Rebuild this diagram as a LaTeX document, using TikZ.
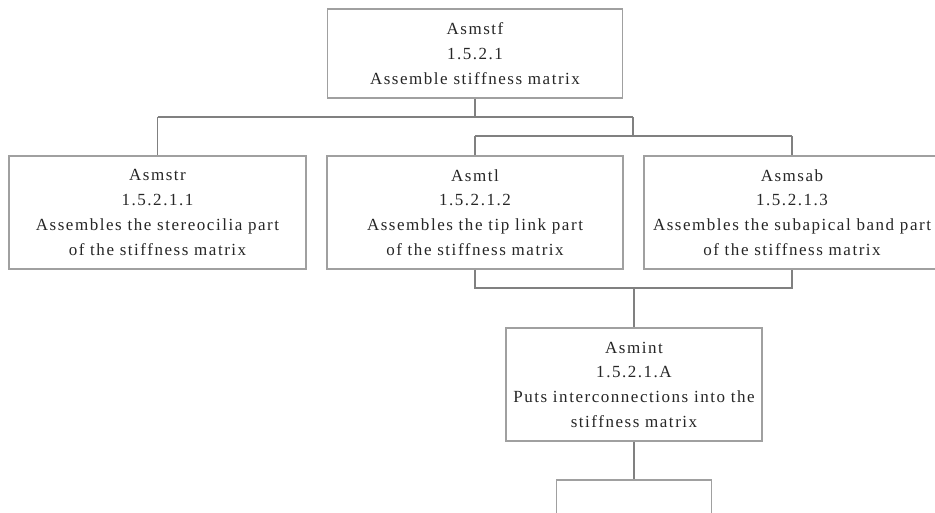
\documentclass[tikz,border=0pt]{standalone}
\usepackage{fontspec}
\setmainfont{Liberation Serif}[LetterSpace=9]
\definecolor{linegray}{RGB}{128,128,128}
\definecolor{boxgray}{RGB}{160,160,160}
\tikzset{
  modbox/.style={draw=boxgray, line width=1.2pt, fill=white, align=center,
    font=\fontsize{17}{24.7}\selectfont, text=black!85, inner sep=0pt},
  conn/.style={draw=linegray, line width=1.5pt}
}
\begin{document}
\begin{tikzpicture}[x=1pt,y=-1pt]
\useasboundingbox (0,0) rectangle (935,512);
\clip (0,0) rectangle (935,512);
\fill[white] (0,0) rectangle (935,512);

\node[modbox, minimum width=295pt, minimum height=89pt] (top) at (475,53.5)
  {Asmstf\\1.5.2.1\\Assemble stiffness matrix};
\node[modbox, minimum width=297pt, minimum height=113pt] (str) at (157.5,212.5)
  {Asmstr\\1.5.2.1.1\\Assembles the stereocilia part\\of the stiffness matrix};
\node[modbox, minimum width=296pt, minimum height=113pt] (tl) at (475,212.5)
  {Asmtl\\1.5.2.1.2\\Assembles the tip link part\\of the stiffness matrix};
\node[modbox, minimum width=296pt, minimum height=113pt] (sab) at (792,212.5)
  {Asmsab\\1.5.2.1.3\\Assembles the subapical band part\\of the stiffness matrix};
\node[modbox, minimum width=256pt, minimum height=113pt] (int) at (634,384.5)
  {Asmint\\1.5.2.1.A\\Puts interconnections into the\\stiffness matrix};
\node[modbox, minimum width=155pt, minimum height=100pt] (bot) at (634,530) {};

\coordinate (busA) at (0,117);
\coordinate (busB) at (0,136);
\coordinate (busC) at (0,288);
\coordinate (jR) at (633,117);

\draw[conn] (top.south) -- (top.south |- busA);
\draw[conn] (str.north |- busA) -- (jR);
\draw[conn] (str.north |- busA) -- (str.north);
\draw[conn] (jR) -- (jR |- busB);
\draw[conn] (tl.north |- busB) -- (sab.north |- busB);
\draw[conn] (tl.north |- busB) -- (tl.north);
\draw[conn] (sab.north |- busB) -- (sab.north);
\draw[conn] (tl.south) -- (tl.south |- busC) -- (sab.south |- busC) -- (sab.south);
\draw[conn] (int.north |- busC) -- (int.north);
\draw[conn] (int.south) -- (bot.north);
\end{tikzpicture}
\end{document}
